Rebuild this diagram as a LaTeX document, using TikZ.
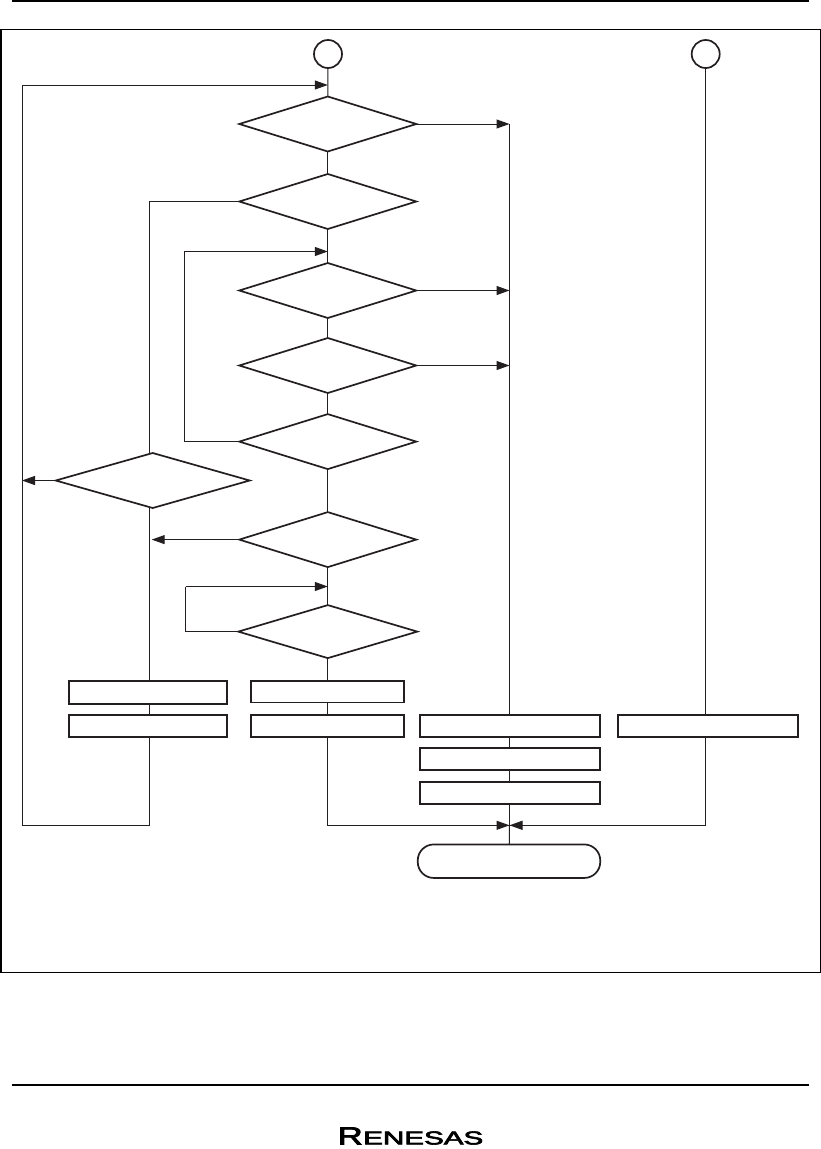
\documentclass[tikz,border=0pt]{standalone}
\usepackage{fontspec}
\setmainfont{Liberation Sans}
\newfontfamily\logofont[FakeBold=3]{Liberation Sans}
\usetikzlibrary{shapes.geometric,arrows.meta,backgrounds}
\definecolor{ink}{HTML}{231F20}
\tikzset{
  x=1pt,y=-1pt,
  every node/.style={inner sep=0pt,outer sep=0pt},
  shapeline/.style={draw=ink,line width=1.7pt,fill=white},
  conn/.style={draw=ink,line width=1pt},
  flow/.style={conn,-{Triangle[length=13pt,width=9pt,color=ink]}},
  flowdiamond/.style={shapeline,diamond,minimum width=#1,minimum height=55pt},
  flowdiamond/.default=177pt,
  procbox/.style={shapeline,rectangle,minimum height=21.6pt},
  connector/.style={shapeline,circle,minimum size=28pt},
  terminal/.style={shapeline,rectangle,rounded corners=16pt,minimum width=182.5pt,minimum height=33.5pt},
  rule/.style={draw=black,line width=#1},
}
\begin{document}
\begin{tikzpicture}
\useasboundingbox (0,0) rectangle (821,1149);
% page rules and frame
\coordinate (tl) at (12.3,1.1); \coordinate (tr) at (809,1.1);
\coordinate (bl) at (12.3,1085); \coordinate (br) at (809,1085);
\draw[rule=2.3pt] (tl) -- (tr);
\draw[rule=2pt] (bl) -- (br);
\coordinate (f1) at (0.5,29.5); \coordinate (f2) at (820.5,972.3);
\draw[rule=1pt] (f1) rectangle (f2);
\coordinate (f3) at (1.1,29.5); \coordinate (f4) at (1.1,972.3);
\draw[rule=2.3pt] (f3) -- (f4);
% connectors circles
\node[connector] (c1) at (328,54) {};
\node[connector] (c2) at (705.7,54) {};
% diamonds
\node[flowdiamond] (d1) at (327.8,124) {};
\node[flowdiamond] (d2) at (327.8,201.5) {};
\node[flowdiamond] (d3) at (327.8,290.5) {};
\node[flowdiamond] (d4) at (327.8,365.5) {};
\node[flowdiamond] (d5) at (327.8,441.6) {};
\node[flowdiamond] (d6) at (327.8,539.6) {};
\node[flowdiamond=179pt,minimum height=53pt] (d7) at (327.8,631.6) {};
\node[flowdiamond=194pt] (d8) at (152.7,480.5) {};
% boxes
\node[procbox,minimum width=158.5pt,minimum height=23pt] (r1) at (148,692.3) {};
\node[procbox,minimum width=158.5pt] (r2) at (148,726) {};
\node[procbox,minimum width=153.5pt] (r3) at (327.5,691.8) {};
\node[procbox,minimum width=153.5pt] (r4) at (327.5,726) {};
\node[procbox,minimum width=179.6pt] (r5) at (510,726) {};
\node[procbox,minimum width=179.6pt] (r6) at (510,759) {};
\node[procbox,minimum width=179.6pt] (r7) at (510,793) {};
\node[procbox,minimum width=179.9pt] (r8) at (708.2,726) {};
\node[terminal] (t1) at (509,861.2) {};
% junctions
\coordinate (spine) at (149.7,201.5);
\coordinate (bus) at (509.5,124);
\coordinate (loopA) at (22,85);
\coordinate (loopB) at (22,825.3);
\coordinate (loopC) at (149.7,825.3);
\coordinate (loopD) at (184,441.6);
\coordinate (loopE) at (184,251.5);
\coordinate (loopF) at (185.5,631.6);
\coordinate (loopG) at (185.5,586.5);
\coordinate (merge) at (509.5,825.3);
\coordinate (low) at (327.8,825.3);
\coordinate (right) at (705.7,825.3);
\coordinate (d6tip) at (151.7,539.6);
\begin{scope}[on background layer]
\fill[white] (0,0) rectangle (821,1149);
\draw[conn] (c1.center) -- (d1.center);
\draw[conn] (d1.center) -- (d2.center);
\draw[conn] (d2.center) -- (d3.center);
\draw[conn] (d3.center) -- (d4.center);
\draw[conn] (d4.center) -- (d5.center);
\draw[conn] (d5.center) -- (d6.center);
\draw[conn] (d6.center) -- (d7.center);
\draw[conn] (d7.center) -- (low) -- (merge);
\draw[conn] (d2.center) -- (spine) -- (loopC) -- (loopB) -- (loopA);
\draw[conn] (bus) -- (merge);
\draw[conn] (merge) -- (t1.center);
\draw[conn] (c2.center) -- (right) -- (merge);
\draw[conn] (d5.center) -- (loopD) -- (loopE);
\draw[conn] (d7.center) -- (loopF) -- (loopG);
% arrows
\draw[flow] (d1.center) -- (bus);
\draw[flow] (d3.center) -- (d3.center -| bus);
\draw[flow] (d4.center) -- (d4.center -| bus);
\draw[flow] (d6.center) -- (d6tip);
\draw[flow] (d8.center) -- (d8.center -| loopA);
\draw[flow] (loopA) -- (loopA -| d1.center);
\draw[flow] (loopE) -- (loopE -| d5.center);
\draw[flow] (loopG) -- (loopG -| d7.center);
\draw[flow] (low) -- (merge);
\draw[flow] (right) -- (merge);
\end{scope}
% logo
\node (logo) at (410.5,1136) {\resizebox{25pt}{17pt}{\logofont R}\kern0.5pt\resizebox{120pt}{13pt}{\logofont ENESAS}};
\end{tikzpicture}
\end{document}
